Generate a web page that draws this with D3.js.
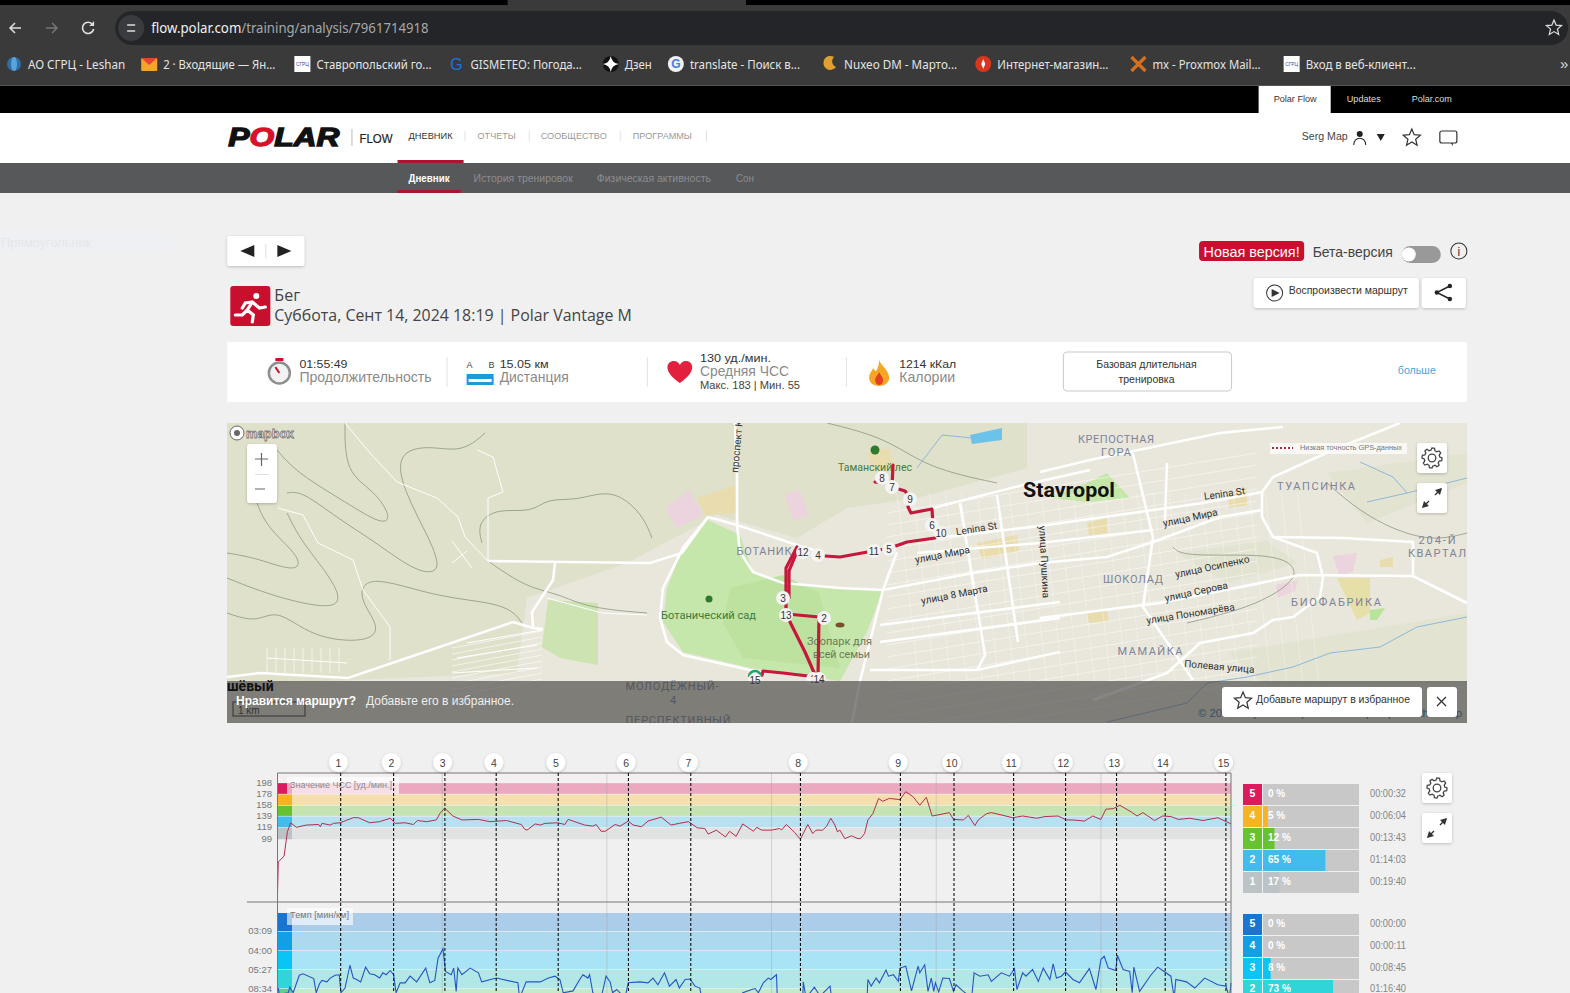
<!DOCTYPE html>
<html>
<head>
<meta charset="utf-8">
<title>Polar Flow</title>
<script src="https://d3js.org/d3.v7.min.js"></script>
<style>
  html, body { margin: 0; padding: 0; background: #f0f0f0; overflow: hidden; }
  svg { display: block; }
</style>
</head>
<body>
<div id="page"></div>
<script>
// ---- chart data ----
const totalMinutes = 115.8;
const gridMinutes = [20, 40, 60, 80, 100];
const lapLabels = [1, 2, 3, 4, 5, 6, 7, 8, 9, 10, 11, 12, 13, 14, 15];
const lapMinutes = [7.67, 14.1, 20.33, 26.56, 34.09, 42.62, 50.19, 63.51, 75.65, 82.16, 89.4, 95.71, 101.9, 107.81, 115.18];

const hrTicks = [198, 178, 158, 139, 119, 99];
const hrZoneEdges = [198, 178, 158, 139, 119, 99];
const hrMinutes = [0, 0.1, 0.8, 1.2, 1.6, 2.3, 3.5, 5, 5.2, 5.4, 6.4, 6.8, 7.6, 9.2, 9.8, 11.2, 12.4, 13.7, 14.3, 15.5, 16.5, 17, 18.1, 19.3, 19.7, 20.3, 21.3, 22.4, 24.4, 25.8, 27.8, 29.6, 30, 30.3, 31.3, 31.9, 32.5, 34, 34.9, 35.3, 37.3, 38.3, 38.7, 39.3, 39.8, 41, 41.6, 42.6, 43.2, 44.2, 45, 46.6, 47.8, 48.8, 49.9, 51, 51.9, 52.3, 53.3, 54.4, 54.9, 55.7, 56.5, 57.8, 58.2, 58.8, 60, 61, 61.2, 61.8, 62.8, 63.5, 64.4, 65, 65.4, 66.2, 66.7, 67.2, 67.7, 68, 68.3, 68.9, 69.7, 70.5, 70.8, 71.3, 71.7, 72.3, 73, 73.5, 74.3, 75.6, 76.3, 77.2, 78, 78.8, 79.5, 80.6, 81.6, 82.1, 83.3, 83.9, 84.7, 85.1, 86.1, 86.7, 89.3, 90.5, 92.2, 93.2, 94.8, 95.8, 96.6, 98, 99, 100, 100.6, 101.5, 102.3, 103.7, 104.4, 105.1, 106.5, 107.5, 108.5, 109.4, 110.8, 112.4, 114.2, 115.8];
const hrValues = [3, 59, 69, 112, 128, 120, 124, 125, 121, 127, 124, 127, 128, 137, 137, 128, 130, 136, 127, 128, 125, 132, 130, 133, 144, 154, 140, 133, 134, 130, 132, 125, 117, 115, 126, 124, 127, 128, 125, 134, 124, 122, 125, 113, 113, 125, 122, 131, 124, 121, 131, 138, 124, 127, 130, 119, 118, 108, 115, 103, 113, 104, 126, 113, 120, 115, 115, 118, 115, 125, 111, 99, 125, 109, 115, 115, 122, 136, 124, 112, 115, 100, 105, 100, 100, 109, 133, 144, 171, 166, 171, 169, 183, 174, 159, 173, 140, 143, 146, 134, 133, 141, 123, 133, 144, 146, 137, 140, 136, 139, 140, 133, 133, 131, 140, 134, 152, 153, 159, 147, 140, 146, 132, 140, 139, 134, 136, 132, 137, 126];

// pace zones are linear in speed, so the series is kept in km/h
const paceTicks = [19.05, 15, 11, 7];
const paceTickLabels = ["03:09", "04:00", "05:27", "08:34"];
const paceZoneEdges = [23, 19.05, 15, 11, 7, 3];
const paceMinutesAxis = [0.1, 0.2, 1.3, 1.5, 1.9, 2.65, 3.1, 4.4, 4.7, 5.1, 5.4, 6, 6.4, 7, 7.5, 7.7, 8.2, 8.8, 9.2, 9.6, 10.1, 10.7, 11.2, 11.8, 12.4, 12.8, 13.2, 13.7, 14.1, 14.4, 14.9, 15.5, 16.1, 16.9, 18, 18.5, 19.1, 19.5, 20.1, 20.4, 21.1, 21.4, 21.7, 21.9, 22.4, 23.4, 24.4, 24.8, 26.6, 29.2, 29.4, 30.2, 31.9, 32.9, 33.7, 34.3, 34.7, 35.9, 36.7, 37.1, 37.7, 37.9, 38.3, 39.3, 39.9, 40.4, 40.7, 41.2, 42.2, 42.6, 44, 45, 45.6, 46.2, 47, 47.6, 48.4, 48.8, 49.5, 50.1, 50.7, 51.3, 51.5, 53, 54.5, 56, 56.5, 57.6, 58, 58.4, 59, 59.6, 59.9, 60.6, 60.7, 63.8, 63.85, 64.2, 65.2, 65.9, 67.1, 67.3, 71.6, 71.7, 72.1, 72.7, 73.1, 73.9, 74.2, 74.8, 75.4, 75.6, 76.3, 77, 77.8, 78, 78.6, 79, 79.4, 79.7, 79.9, 80.3, 80.8, 81.6, 82.1, 82.4, 83.3, 84.3, 84.6, 85.3, 86.3, 86.7, 87.9, 88.9, 89.5, 89.8, 90.5, 90.9, 91.7, 92.4, 93, 93.8, 94.2, 94.6, 95.2, 95.7, 96.6, 97.4, 98.6, 99.4, 100, 100.4, 100.9, 101.8, 102, 102.7, 103.5, 103.8, 104, 104.7, 106.1, 106.9, 107.5, 108.5, 108.9, 109.1, 110.4, 111.4, 112.6, 114.2, 115.2, 115.6, 115.8];
const paceSpeeds = [7.2, 5.9, 6.2, 7.4, 6.2, 9.9, 10.2, 9.2, 6.2, 8.1, 8.8, 8.5, 9.3, 9.9, 10, 6.2, 7.2, 12, 9.3, 9, 8.5, 11.6, 10.2, 10, 9.3, 10.4, 10, 10.9, 10, 6.2, 8.3, 8.3, 9.7, 8.5, 11.4, 8.3, 8.8, 13.5, 15.5, 10.7, 10, 11.4, 6.5, 11.4, 10, 11.4, 10.4, 8.5, 9.3, 8.3, 5.1, 8.5, 8.5, 9.3, 9.7, 9, 6.2, 6.6, 9, 10, 9.3, 10, 6.2, 5.1, 9.7, 8.5, 6.2, 6.9, 5.1, 8.3, 8.5, 8.3, 9.3, 7.9, 10.4, 7.6, 9, 7.2, 9, 9.1, 7.6, 7.2, 5.1, 4.5, 4, 5, 6.2, 6.9, 7.1, 6.2, 8.3, 9.3, 9, 10, 5.1, 5.1, 8.5, 5.1, 7.4, 5.5, 7.6, 5.1, 5.1, 9, 7.6, 9.3, 8.3, 11, 9.7, 10, 8.6, 11.4, 11.8, 6.6, 11.8, 10.4, 12.1, 6.5, 9.3, 6.5, 8.3, 6.4, 9.3, 9.2, 6.5, 7.9, 6.5, 5.1, 10.4, 9.7, 10, 8.6, 10.4, 9.7, 11.3, 6.9, 10.4, 9.7, 11.1, 8.6, 11.4, 9, 12.3, 9.3, 9.7, 10.6, 9, 8.3, 11.3, 6.9, 13.2, 13.9, 11.4, 10.9, 14.1, 11.1, 10.7, 6.2, 11.6, 6.5, 10, 11.6, 10.9, 9.7, 5.1, 9, 8.5, 7.2, 9.3, 7.9, 7.6, 5.1, 8.3];

const zoneNumbers = [5, 4, 3, 2, 1];
const hrZonePercent = [0, 5, 12, 65, 17];
const hrZonePercentLabels = ["0 %", "5 %", "12 %", "65 %", "17 %"];
const hrZoneTimes = ["00:00:32", "00:06:04", "00:13:43", "01:14:03", "00:19:40"];
const paceZonePercent = [0, 0, 8, 73];
const paceZonePercentLabels = ["0 %", "0 %", "8 %", "73 %"];
const paceZoneTimes = ["00:00:00", "00:00:11", "00:08:45", "01:16:40"];

const hrKeyColors = ["#dc1a5e", "#f6b322", "#66c22e", "#42bcec", "#bcc3c6"];
const hrBandColors = ["#eba9c0", "#f5dfae", "#c6e4b2", "#b7e0f0", "#e1e2e2"];
const paceKeyColors = ["#1a75d2", "#129fe4", "#08c5f6", "#30d5da", "#5fd08a"];
const paceBandColors = ["#accdea", "#acd9ee", "#a8e4f5", "#b1e7e6", "#c2eacb"];

const bookmarkNames = ["АО СГРЦ - Leshan", "2 · Входящие — Ян...", "Ставропольский го...", "GISMETEO: Погода...", "Дзен", "translate - Поиск в...", "Nuxeo DM - Марто...", "Интернет-магазин...", "mx - Proxmox Mail...", "Вход в веб-клиент..."];
const bookmarkStart = [28, 163, 316, 470, 624, 689, 843, 996, 1151, 1304];
const bookmarkEnd = [125, 275, 431, 581, 651, 799, 956, 1107, 1259, 1414];
const bookmarkIcons = ["globe", "mail", "sgrc", "gis", "zen", "google", "moon", "shop", "mx", "sgrc"];

// map geometry, in map units (origin at the map's top left)
const hillArea = [[0, 0], [800, 0], [800, 45], [690, 75], [620, 85], [570, 115], [490, 92], [400, 140], [300, 175], [290, 250], [0, 262]];
const softAreas = [[[1100, 50], [1240, 30], [1240, 60], [1140, 100]], [[1000, 230], [1240, 190], [1240, 260], [1040, 262]], [[950, 130], [1040, 118], [1070, 140], [1000, 160]]];
const gardenArea = [[481, 97], [513, 112], [526, 149], [556, 160], [656, 167], [640, 209], [613, 258], [523, 245], [456, 229], [436, 199], [440, 165], [456, 125]];
const gardenInner = [[503, 165], [556, 152], [592, 170], [613, 245], [516, 235], [496, 200]];
const parkArea = [[321, 177], [371, 180], [371, 242], [333, 235], [315, 224]];
const lakeArea = [[743, 12], [775, 5], [775, 17], [745, 21]];
const patches = [
  [[438, 85], [462, 67], [476, 92], [450, 105]], [[470, 75], [508, 62], [510, 90], [478, 92]],
  [[558, 72], [572, 66], [582, 92], [566, 98]], [[640, 30], [662, 25], [668, 42], [648, 50]],
  [[1106, 133], [1130, 130], [1126, 149], [1112, 152]], [[1153, 137], [1166, 134], [1166, 144], [1153, 144]],
  [[1110, 155], [1143, 155], [1143, 190], [1130, 197]], [[860, 190], [880, 187], [882, 198], [862, 200]],
  [[1000, 70], [1020, 65], [1020, 82], [1002, 85]], [[860, 100], [880, 95], [880, 110], [862, 112]],
  [[1048, 162], [1071, 157], [1068, 168], [1050, 175]], [[750, 120], [790, 112], [792, 128], [755, 136]],
  [[1143, 187], [1158, 185], [1150, 197], [1143, 197]], [[823, 75], [860, 60], [880, 50], [903, 75], [860, 79]]
];
const patchColors = ["#ecd4de", "#e9dcae", "#ecd4de", "#e9dcae", "#ecd4de", "#e9dcae", "#e6dfa8", "#e9dcae", "#e9dcae", "#e9dcae", "#ecd4de", "#e9dcae", "#b9e39a", "#c5e6a9"];
const mainRoads = [
  [[508, 0], [510, 52], [510, 102], [513, 129], [526, 149], [556, 160], [613, 165], [656, 167], [746, 150], [813, 140], [880, 134], [926, 119], [993, 94], [1035, 87]],
  [[481, 94], [510, 102], [570, 122]],
  [[570, 122], [590, 128]],
  [[481, 94], [456, 125], [436, 165], [433, 195], [440, 219], [456, 232], [523, 247], [538, 250]],
  [[261, 138], [423, 140], [455, 130], [481, 94]],
  [[328, 140], [326, 157], [305, 189], [306, 205]],
  [[286, 199], [306, 205], [316, 206]],
  [[0, 254], [33, 250], [121, 255], [286, 199]],
  [[656, 167], [633, 258], [625, 300]],
  [[708, 115], [813, 103], [976, 80], [1035, 69], [1046, 54], [1106, 27], [1173, 0]],
  [[1035, 69], [1035, 94], [1046, 114], [1090, 130], [1096, 154], [1093, 174], [1066, 194], [1046, 197], [1026, 210], [973, 220], [940, 250], [866, 277]],
  [[813, 195], [933, 180], [1073, 152], [1186, 153], [1240, 180]],
  [[1046, 114], [1116, 115], [1186, 119], [1186, 154]],
  [[905, 27], [926, 114], [916, 184], [966, 257]],
  [[770, 72], [791, 219]], [[733, 80], [758, 232], [750, 247]],
  [[670, 129], [656, 167]], [[690, 130], [813, 120], [926, 107]],
  [[653, 202], [833, 179]], [[653, 219], [833, 195]], [[643, 247], [750, 247], [833, 229]],
  [[813, 49], [863, 37], [993, 10], [1056, 4]], [[940, 40], [938, 97]],
  [[706, 85], [796, 62], [863, 47]]
];
const thinRoads = [
  [[261, 138], [261, 75], [276, 69], [266, 34], [250, 27]],
  [[118, 0], [143, 30], [170, 59], [210, 75], [231, 94], [238, 114], [261, 138]],
  [[51, 85], [76, 92], [91, 120], [126, 137], [136, 167], [163, 204], [163, 237]],
  [[225, 118], [245, 145]], [[240, 128], [225, 140]],
  [[320, 175], [375, 190], [420, 192]], [[40, 235], [120, 240]], [[225, 250], [310, 245]], [[230, 235], [310, 222]], [[240, 220], [315, 207]]
];
const contours = [
  [[50, 27], [70, 50], [120, 80], [155, 102], [165, 95], [148, 68], [118, 50], [118, 0]],
  [[60, 70], [75, 68], [110, 95], [150, 120], [190, 150], [215, 150], [205, 120], [175, 65], [170, 30], [200, 22], [235, 30], [258, 10]],
  [[0, 130], [30, 135], [70, 150], [75, 135], [40, 105], [30, 80]],
  [[0, 155], [50, 175], [120, 190], [105, 155], [75, 120], [60, 90]],
  [[0, 190], [30, 200], [50, 185], [85, 215], [140, 220], [155, 205], [130, 175], [140, 150], [210, 175], [280, 180], [295, 200]],
  [[255, 120], [250, 100], [270, 85], [305, 90], [320, 75], [350, 78], [385, 65], [415, 90], [425, 115]],
  [[261, 138], [300, 165], [330, 170], [360, 185], [420, 190]],
  [[946, 124], [956, 134], [1046, 130], [1070, 144], [1066, 160], [1026, 184], [960, 200]],
  [[600, 0], [660, 15], [700, 45], [770, 60]], [[1100, 60], [1140, 95], [1200, 120], [1240, 110]]
];
const rivers = [
  [[1240, 194], [1190, 204], [1153, 224], [1103, 230], [1066, 244], [1020, 254], [980, 260], [960, 280], [880, 299]],
  [[1133, 39], [1166, 54], [1180, 70], [1140, 79]], [[1180, 70], [1240, 55]], [[690, 45], [715, 12], [745, 15]]
];
const routeLines = [
  [[535, 252], [536, 248], [556, 250], [581, 253], [591, 254], [592, 194], [560, 191]],
  [[589, 254], [578, 229], [563, 199], [560, 191]],
  [[559, 191], [559, 145], [570, 124]], [[562, 175], [562, 148], [571, 126]],
  [[598, 133], [613, 134], [646, 128], [663, 125], [680, 119], [708, 115]],
  [[706, 102], [705, 86], [684, 90], [681, 84], [684, 76], [678, 68], [665, 64], [666, 42]],
  [[648, 59], [655, 60]]
];
const mapLapX = [586, 597, 556, 591, 662, 705, 665, 655, 683, 714, 647, 576, 559, 592, 528];
const mapLapY = [256, 195, 175, 132, 126, 102, 64, 55, 76, 110, 128, 129, 192, 256, 257];
const districtNames = ["КРЕПОСТНАЯ", "ГОРА", "ТУАПСИНКА", "204-Й", "КВАРТАЛ", "ШОКОЛАД", "БИОФАБРИКА", "МАМАЙКА", "БОТАНИК", "МОЛОДЁЖНЫЙ-", "4", "ПЕРСПЕКТИВНЫЙ"];
const districtX = [889, 889, 1089, 1210, 1210, 906, 1109, 923, 537, 445, 446, 451];
const districtY = [20, 33, 67, 121, 134, 160, 183, 232, 132, 267, 281, 301];
const districtWidth = [76, 30, 78, 37, 58, 60, 90, 65, 55, 93, 6, 105];
const streetNames = ["Lenina St", "Lenina St", "улица Мира", "улица Мира", "улица 8 Марта", "улица Пушкина", "улица Осипенко", "улица Серова", "улица Пономарёва", "Полевая улица"];
const streetX = [750, 998, 716, 964, 728, 814, 986, 970, 964, 992];
const streetY = [109, 74, 135, 98, 175, 139, 147, 172, 194, 247];
const streetAngle = [-9, -8, -11, -12, -11, 87, -12, -12, -9, 5];

// ---- page ----
const svg = d3.select("#page").append("svg").attr("width", 1570).attr("height", 993);
const defs = svg.append("defs");
const shadow = defs.append("filter").attr("id", "soft").attr("x", "-20%").attr("y", "-20%").attr("width", "140%").attr("height", "150%");
shadow.append("feDropShadow").attr("dx", 0).attr("dy", 1).attr("stdDeviation", 1.6).attr("flood-opacity", 0.22);
// header and cards were measured on the slightly smaller preview
const root = svg.append("g").attr("transform", "scale(1.00128,1)");

function box(x, y, w, h, fill, r, parent) {
  return (parent || root).append("rect").attr("x", x).attr("y", y).attr("width", w).attr("height", h).attr("fill", fill).attr("rx", r || 0);
}
// o.w squeezes the string to the width measured on the reference
function label(x, y, str, o) {
  o = o || {};
  const t = (o.parent || root).append("text").attr("x", x).attr("y", y).text(str)
    .attr("font-family", o.font || "Liberation Sans")
    .attr("font-size", o.size || 11)
    .attr("font-weight", o.weight || 400)
    .attr("fill", o.fill || "#333")
    .attr("text-anchor", o.anchor || "start");
  if (o.w) t.attr("textLength", o.w).attr("lengthAdjust", "spacingAndGlyphs");
  if (o.spacing) t.attr("letter-spacing", o.spacing);
  if (o.rotate !== undefined) t.attr("transform", `rotate(${o.rotate},${x},${y})`);
  return t;
}
function gear(cx, cy, r, parent) {
  const pts = d3.range(48).map(i => {
    const a = i / 48 * 2 * Math.PI;
    const k = i % 6 < 3 ? r : r * 0.78;
    return [cx + k * Math.cos(a), cy + k * Math.sin(a)];
  });
  parent.append("path").attr("d", d3.line().curve(d3.curveLinearClosed)(pts)).attr("fill", "none").attr("stroke", "#444").attr("stroke-width", 1.3);
  parent.append("circle").attr("cx", cx).attr("cy", cy).attr("r", r * 0.38).attr("fill", "none").attr("stroke", "#444").attr("stroke-width", 1.3);
}
function expandIcon(cx, cy, parent) {
  parent.append("path").attr("d", `M${cx - 9},${cy + 9}L${cx - 3},${cy + 3}M${cx + 3},${cy - 3}L${cx + 9},${cy - 9}`).attr("stroke", "#333").attr("stroke-width", 1.4);
  parent.append("path").attr("d", `M${cx - 10},${cy + 10}l2,-7l5,5zM${cx + 10},${cy - 10}l-2,7l-5,-5z`).attr("fill", "#333");
}
function starIcon(cx, cy, r, parent) {
  const pts = d3.range(10).map(i => {
    const a = -Math.PI / 2 + i * Math.PI / 5;
    const k = i % 2 ? r * 0.45 : r;
    return [cx + k * Math.cos(a), cy + k * Math.sin(a)];
  });
  return parent.append("path").attr("d", d3.line().curve(d3.curveLinearClosed)(pts)).attr("fill", "none").attr("stroke", "#333").attr("stroke-width", 1.2);
}
function bookmarkIcon(kind, cx) {
  const cy = 64;
  if (kind === "globe") {
    root.append("circle").attr("cx", cx).attr("cy", cy).attr("r", 7).attr("fill", "#2f6fa8");
    root.append("ellipse").attr("cx", cx).attr("cy", cy).attr("rx", 3).attr("ry", 7).attr("fill", "#5aa4d8");
  } else if (kind === "mail") {
    box(cx - 8, cy - 6, 16, 13, "#f5a623", 1);
    root.append("path").attr("d", `M${cx - 8},${cy - 6}l8,7l8,-7z`).attr("fill", "#e2472f");
  } else if (kind === "sgrc") {
    box(cx - 8, cy - 8, 16, 16, "#fff");
    label(cx, cy + 2, "СГРЦ", { size: 5, fill: "#4b3f9e", anchor: "middle", w: 13 });
  } else if (kind === "gis") {
    label(cx, cy + 6, "G", { size: 16, fill: "#1a73e8", anchor: "middle" });
  } else if (kind === "zen") {
    root.append("circle").attr("cx", cx).attr("cy", cy).attr("r", 8).attr("fill", "#111");
    root.append("path").attr("d", `M${cx},${cy - 8}q1,7 8,8q-7,1 -8,8q-1,-7 -8,-8q7,-1 8,-8z`).attr("fill", "#fff");
  } else if (kind === "google") {
    root.append("circle").attr("cx", cx).attr("cy", cy).attr("r", 8).attr("fill", "#f1f1f1");
    label(cx, cy + 4.5, "G", { size: 12, weight: 700, fill: "#3f7fe8", anchor: "middle" });
  } else if (kind === "moon") {
    root.append("path").attr("d", `M${cx + 6},${cy + 3}a7,7 0 1 1 -2,-10a6,6 0 0 0 2,10z`).attr("fill", "#e0a030");
  } else if (kind === "shop") {
    root.append("circle").attr("cx", cx).attr("cy", cy).attr("r", 8).attr("fill", "#d9361e");
    root.append("path").attr("d", `M${cx},${cy - 5}l2,5l-2,5l-2,-5z`).attr("fill", "#fff");
  } else if (kind === "mx") {
    root.append("path").attr("d", `M${cx - 7},${cy - 7}l14,14M${cx + 7},${cy - 7}l-14,14`).attr("stroke", "#d9701e").attr("stroke-width", 3.2);
  }
}

// browser chrome
box(0, 0, 1570, 993, "#f0f0f0");
box(0, 0, 1570, 86, "#3a3a3a");
box(0, 0, 507, 5, "#000");
box(745, 0, 825, 5, "#000");
box(115, 11, 1451, 34, "#232528", 17);
root.append("circle").attr("cx", 131).attr("cy", 28).attr("r", 13).attr("fill", "#3a3b3e");
root.append("path").attr("d", "M127,25h8M127,31h8").attr("stroke", "#ddd").attr("stroke-width", 1.3);
root.append("path").attr("d", "M21,28h-11m5,-5l-5,5l5,5").attr("fill", "none").attr("stroke", "#ddd").attr("stroke-width", 1.5);
root.append("path").attr("d", "M46,28h11m-5,-5l5,5l-5,5").attr("fill", "none").attr("stroke", "#777").attr("stroke-width", 1.5);
root.append("path").attr("d", "M92.5,24.5a5.6,5.6 0 1 0 1,4.5").attr("fill", "none").attr("stroke", "#ddd").attr("stroke-width", 1.7);
root.append("path").attr("d", "M94,21v5h-5z").attr("fill", "#ddd");
label(151, 33, "flow.polar.com", { font: "Noto Sans", size: 14, fill: "#f0f0f0", w: 90 });
label(241, 33, "/training/analysis/7961714918", { font: "Noto Sans", size: 14, fill: "#a8a8a8", w: 187 });
starIcon(1552, 28, 8, root).attr("stroke", "#ddd");
bookmarkNames.forEach((name, i) => {
  label(bookmarkStart[i], 69, name, { font: "Noto Sans", size: 12, fill: "#e4e4e4", w: bookmarkEnd[i] - bookmarkStart[i] });
  bookmarkIcon(bookmarkIcons[i], bookmarkStart[i] - 14);
});
label(1558, 69, "»", { size: 15, fill: "#ddd" });
box(0, 85, 1570, 1, "#555");

// site header
box(0, 86, 1570, 27, "#000");
box(1257, 86, 72, 27, "#fff");
label(1272, 102, "Polar Flow", { size: 9.5, fill: "#333", w: 43 });
label(1345, 102, "Updates", { size: 9.5, fill: "#ddd", w: 34 });
label(1410, 102, "Polar.com", { size: 9.5, fill: "#ddd", w: 40 });
box(0, 113, 1570, 50, "#fff");
const logo = label(228, 146, "", { size: 25, weight: 700, fill: "#111", font: "Liberation Sans" }).attr("font-style", "italic").attr("stroke", "#111").attr("stroke-width", 1.3);
logo.append("tspan").text("P");
logo.append("tspan").attr("fill", "#d6122b").attr("stroke", "#d6122b").text("O");
logo.append("tspan").text("LAR");
logo.attr("textLength", 111).attr("lengthAdjust", "spacingAndGlyphs");
box(351, 129, 1, 17, "#bbb");
label(359, 143, "FLOW", { size: 12.5, weight: 400, fill: "#222", w: 33 }).attr("stroke", "#222").attr("stroke-width", 0.2);
const navNames = ["ДНЕВНИК", "ОТЧЕТЫ", "СООБЩЕСТВО", "ПРОГРАММЫ"];
const navX = [408, 477, 540, 632], navW = [44, 38, 66, 59], navSep = [464, 528, 619, 705];
navNames.forEach((n, i) => {
  label(navX[i], 139, n, { size: 9.5, fill: i === 0 ? "#333" : "#999", w: navW[i] });
  box(navSep[i], 131, 1, 10, "#e2e2e2");
});
box(397, 160, 66, 3, "#a9162f");
box(0, 163, 1570, 30, "#57585a");
box(397, 190, 63, 3, "#a9162f");
const subNames = ["Дневник", "История тренировок", "Физическая активность", "Сон"];
const subX = [408, 473, 596, 735], subW = [41, 99, 114, 18];
subNames.forEach((n, i) => label(subX[i], 182, n, { size: 11, weight: i === 0 ? 700 : 400, fill: i === 0 ? "#fff" : "#8c8d8f", w: subW[i] }));
label(1300, 140, "Serg Map", { size: 10.5, fill: "#444", w: 46 });
root.append("circle").attr("cx", 1358).attr("cy", 134).attr("r", 3).attr("fill", "#222");
root.append("path").attr("d", "M1352,145c0,-9 12,-9 12,0").attr("fill", "none").attr("stroke", "#222");
root.append("path").attr("d", "M1375,134h8l-4,7z").attr("fill", "#222");
starIcon(1410, 138, 9, root);
box(1438, 131, 17, 12, "none", 2).attr("stroke", "#333").attr("stroke-width", 1.2);
root.append("path").attr("d", "M1449,143l2,3v-3z").attr("fill", "#333");

// ghost element at left
box(0, 233, 173, 20, "#eef0f4");
label(1, 247, "Прямоугольник", { size: 12, fill: "#e4e7ec", w: 90 });

// title row
box(227, 236, 77, 30, "#fff", 2).attr("filter", "url(#soft)");
root.append("path").attr("d", "M240,251l14,-6v12zM291,251l-14,-6v12z").attr("fill", "#222");
box(265, 244, 1, 14, "#ddd");
box(230, 286, 40, 40, "#c8102e", 3);
const runner = root.append("g").attr("stroke", "#fff").attr("fill", "none").attr("stroke-width", 3.2).attr("stroke-linecap", "round");
runner.append("path").attr("d", "M252,302l-5,8l6,5l-1,7M247,310l-5,5l-7,0M252,302l7,6l6,-1M252,302l-7,1l-3,5");
root.append("circle").attr("cx", 256).attr("cy", 296).attr("r", 3).attr("fill", "#fff");
label(274, 301, "Бег", { font: "Open Sans", size: 16, fill: "#444" });
label(274, 321, "Суббота, Сент 14, 2024 18:19 | Polar Vantage M", { font: "Open Sans", size: 16, fill: "#444", w: 357 });

box(1197.5, 241, 105, 20, "#c8102e", 4);
label(1202, 257, "Новая версия!", { size: 14, fill: "#fff", w: 96 });
label(1311, 257, "Бета-версия", { size: 14, fill: "#444", w: 80 });
box(1400, 246, 39, 17, "#999", 8.5);
root.append("circle").attr("cx", 1407).attr("cy", 254.5).attr("r", 7).attr("fill", "#fff");
root.append("circle").attr("cx", 1457).attr("cy", 251).attr("r", 8).attr("fill", "none").attr("stroke", "#333");
label(1457, 256, "i", { size: 12, anchor: "middle" });
box(1252, 278, 165, 30, "#fff", 3).attr("filter", "url(#soft)");
root.append("circle").attr("cx", 1273).attr("cy", 293).attr("r", 8).attr("fill", "none").attr("stroke", "#333");
root.append("path").attr("d", "M1270,289l8,4l-8,4z").attr("fill", "#333");
label(1287, 294, "Воспроизвести маршрут", { size: 10.5, fill: "#333", w: 119 });
box(1420, 278, 44, 30, "#fff", 3).attr("filter", "url(#soft)");
root.append("path").attr("d", "M1448,286l-13,6.5l13,6.5").attr("fill", "none").attr("stroke", "#222").attr("stroke-width", 1.4);
[[1448, 286], [1435, 292.5], [1448, 299]].forEach(p => root.append("circle").attr("cx", p[0]).attr("cy", p[1]).attr("r", 2.2).attr("fill", "#222"));

// summary card
box(227, 342, 1238, 60, "#fff");
[446, 646, 845].forEach(x => box(x, 357, 1, 30, "#e3e3e3"));
root.append("circle").attr("cx", 279).attr("cy", 373).attr("r", 10.5).attr("fill", "#f2f2f2").attr("stroke", "#8e8e8e").attr("stroke-width", 2.5);
root.append("path").attr("d", "M279,373l-4,-6").attr("stroke", "#c8102e").attr("stroke-width", 2);
box(275, 358, 8, 3, "#c8102e");
label(299, 368, "01:55:49", { size: 11.5, fill: "#333", w: 48 });
label(299, 382, "Продолжительность", { size: 14, fill: "#8a8a8a", w: 132 });
label(466, 368, "A", { size: 9, fill: "#444" });
label(488, 368, "B", { size: 9, fill: "#444" });
label(499, 368, "15.05 км", { size: 11.5, fill: "#333", w: 49 });
box(466, 374, 27, 11, "#1b9bd7");
box(468, 379, 23, 3, "#fff");
label(499, 382, "Дистанция", { size: 14, fill: "#8a8a8a", w: 69 });
root.append("path").attr("d", "M679,383c-18,-12 -13,-22 -6,-22c3,0 5,2 6,4c1,-2 3,-4 6,-4c7,0 12,10 -6,22z").attr("fill", "#e2213f");
label(699, 362, "130 уд./мин.", { size: 11.5, fill: "#333", w: 71 });
label(699, 376, "Средняя ЧСС", { size: 14, fill: "#8a8a8a", w: 89 });
label(699, 389, "Макс. 183 | Мин. 55", { size: 10, fill: "#444", w: 100 });
root.append("path").attr("d", "M878,360c2,6 10,10 10,18c0,5 -5,8 -10,8c-5,0 -10,-3 -10,-8c0,-5 3,-7 4,-10c1,2 2,3 3,3c2,-3 3,-7 3,-11z").attr("fill", "#f5a623");
root.append("path").attr("d", "M878,372c1,3 4,5 4,8c0,3 -2,5 -4,5c-2,0 -4,-2 -4,-5c0,-3 3,-5 4,-8z").attr("fill", "#e2401f");
label(898, 368, "1214 кКал", { size: 11.5, fill: "#333", w: 57 });
label(898, 382, "Калории", { size: 14, fill: "#8a8a8a", w: 56 });
box(1062, 352, 168, 39, "#fff", 4).attr("stroke", "#c9c9c9");
label(1145, 368, "Базовая длительная", { size: 10.5, anchor: "middle", fill: "#333" });
label(1145, 383, "тренировка", { size: 10.5, anchor: "middle", fill: "#333" });
label(1396, 374, "больше", { size: 11, fill: "#4aa6d2", w: 38 });

// ---- map ----
const mapX = d3.scaleLinear().domain([0, 1240]).range([227, 1467]);
const mapY = d3.scaleLinear().domain([0, 300]).range([423, 723]);
defs.append("clipPath").attr("id", "mapClip").append("rect").attr("x", 227).attr("y", 423).attr("width", 1240).attr("height", 300);
const map = svg.append("g").attr("clip-path", "url(#mapClip)");
const mapLine = d3.line().x(d => mapX(d[0])).y(d => mapY(d[1]));
const mapClosed = d3.line().x(d => mapX(d[0])).y(d => mapY(d[1])).curve(d3.curveLinearClosed);
box(227, 423, 1240, 300, "#e9e6db", 0, map);
map.append("path").attr("d", mapClosed(hillArea)).attr("fill", "#dfe1cb");
softAreas.forEach(p => map.append("path").attr("d", mapClosed(p)).attr("fill", "#e2e3d1"));
map.append("path").attr("d", mapClosed(gardenArea)).attr("fill", "#c6e7ab");
map.append("path").attr("d", mapClosed(gardenInner)).attr("fill", "#bde29f");
map.append("path").attr("d", mapClosed(parkArea)).attr("fill", "#cde3b2");
map.append("path").attr("d", mapClosed(lakeArea)).attr("fill", "#6cc3ea");
patches.forEach((p, i) => map.append("path").attr("d", mapClosed(p)).attr("fill", patchColors[i]));
// background street grid of the town and the dacha plots
d3.range(0, 20).forEach(i => {
  map.append("line").attr("x1", mapX(660)).attr("x2", mapX(1030)).attr("y1", mapY(60 + i * 12 + 30)).attr("y2", mapY(60 + i * 12 - 30)).attr("stroke", "#fff").attr("stroke-width", 0.6).attr("opacity", 0.8);
});
d3.range(0, 26).forEach(i => {
  const gx = 670 + i * 16;
  map.append("line").attr("x1", mapX(gx)).attr("x2", mapX(gx + 22)).attr("y1", mapY(70)).attr("y2", mapY(260)).attr("stroke", "#fff").attr("stroke-width", 0.5).attr("opacity", 0.6);
});
d3.range(0, 9).forEach(i => {
  map.append("line").attr("x1", mapX(225)).attr("x2", mapX(315)).attr("y1", mapY(225 + i * 6)).attr("y2", mapY(208 + i * 6)).attr("stroke", "#fff").attr("stroke-width", 0.6);
  map.append("line").attr("x1", mapX(40 + i * 9)).attr("x2", mapX(40 + i * 9)).attr("y1", mapY(225)).attr("y2", mapY(250)).attr("stroke", "#fff").attr("stroke-width", 0.6);
});
contours.forEach(c => map.append("path").attr("d", d3.line().x(d => mapX(d[0])).y(d => mapY(d[1])).curve(d3.curveBasis)(c)).attr("fill", "none").attr("stroke", "#7f8e72").attr("stroke-width", 0.7));
rivers.forEach(c => map.append("path").attr("d", mapLine(c)).attr("fill", "none").attr("stroke", "#8fb8d8").attr("stroke-width", 1));
thinRoads.forEach(c => map.append("path").attr("d", mapLine(c)).attr("fill", "none").attr("stroke", "#fff").attr("stroke-width", 1));
mainRoads.forEach(c => map.append("path").attr("d", mapLine(c)).attr("fill", "none").attr("stroke", "#fff").attr("stroke-width", 2.6));

districtNames.forEach((n, i) => label(mapX(districtX[i]), mapY(districtY[i]), n, { parent: map, size: 11, fill: "#7d8498", anchor: "middle", font: "Roboto" }).attr("textLength", districtWidth[i]));
streetNames.forEach((n, i) => label(mapX(streetX[i]), mapY(streetY[i]), n, { parent: map, size: 10, fill: "#333", anchor: "middle", font: "Roboto", rotate: streetAngle[i] }));
label(mapX(511), mapY(50), "проспект К", { parent: map, size: 10, fill: "#333", font: "Roboto", rotate: -85 });
label(mapX(648), mapY(48), "Таманский лес", { parent: map, size: 10.5, fill: "#3f7d3f", anchor: "middle", font: "Roboto" });
label(mapX(796), mapY(74), "Stavropol", { parent: map, size: 21, weight: 700, fill: "#111", font: "Roboto", w: 92 });
label(mapX(434), mapY(196), "Ботанический сад", { parent: map, size: 10.5, fill: "#3e7a3e", font: "Roboto", w: 95 });
label(mapX(580), mapY(222), "Зоопарк для", { parent: map, size: 10.5, fill: "#6b7a5a", font: "Roboto", w: 65 });
label(mapX(586), mapY(235), "всей семьи", { parent: map, size: 10.5, fill: "#6b7a5a", font: "Roboto", w: 57 });
map.append("circle").attr("cx", mapX(648)).attr("cy", mapY(27)).attr("r", 4.5).attr("fill", "#2f7a2f");
map.append("circle").attr("cx", mapX(482)).attr("cy", mapY(176)).attr("r", 3.5).attr("fill", "#2f7a2f");
map.append("ellipse").attr("cx", mapX(613)).attr("cy", mapY(202)).attr("rx", 4.5).attr("ry", 2.5).attr("fill", "#7a4f2a");

routeLines.forEach(c => map.append("path").attr("d", mapLine(c)).attr("fill", "none").attr("stroke", "#c4183c").attr("stroke-width", 3.2).attr("stroke-linejoin", "round").attr("stroke-linecap", "round"));
map.append("path").attr("d", `M${mapX(522)},${mapY(254)}a6,6 0 0 1 12,0`).attr("fill", "none").attr("stroke", "#2a9d6a").attr("stroke-width", 2.5);
lapLabels.forEach((n, i) => {
  map.append("circle").attr("cx", mapX(mapLapX[i])).attr("cy", mapY(mapLapY[i])).attr("r", 7).attr("fill", "#f4f4f4");
  label(mapX(mapLapX[i]), mapY(mapLapY[i]) + 3.5, n, { parent: map, size: 10, fill: "#333", anchor: "middle" });
});

// map controls
label(246, 438, "mapbox", { parent: map, size: 12.5, weight: 700, fill: "#f4f4f4", w: 48 }).attr("stroke", "#777").attr("stroke-width", 0.8);
map.append("circle").attr("cx", 237).attr("cy", 433).attr("r", 7).attr("fill", "#fff").attr("stroke", "#666");
map.append("circle").attr("cx", 237).attr("cy", 433).attr("r", 3).attr("fill", "#666");
box(247, 444, 30, 59, "#fff", 3, map).attr("filter", "url(#soft)");
map.append("path").attr("d", "M255,459h13M261.5,453v13M255,489h10").attr("stroke", "#666").attr("stroke-width", 1.2);
box(255, 474, 14, 0.6, "#ccc", 0, map);
box(1270, 443, 137, 11, "#fff", 0, map).attr("opacity", 0.7);
map.append("line").attr("x1", 1272).attr("x2", 1293).attr("y1", 448).attr("y2", 448).attr("stroke", "#a5264d").attr("stroke-width", 2).attr("stroke-dasharray", "2,2");
label(1300, 450, "Низкая точность GPS-данных", { parent: map, size: 7.5, fill: "#777", w: 102 });
box(1417, 443, 30, 30, "#fff", 3, map).attr("filter", "url(#soft)");
gear(1432, 458, 10, map);
box(1417, 483, 30, 30, "#fff", 3, map).attr("filter", "url(#soft)");
expandIcon(1432, 498, map);

// bottom strip of the map
box(227, 681, 1240, 42, "#3c3c3c", 0, map).attr("opacity", 0.62);
label(227, 691, "шёвый", { parent: map, size: 14, weight: 700, fill: "#111", font: "Roboto" });
box(233, 702, 72, 14, "none", 0, map).attr("stroke", "#333");
label(238, 714, "1 km", { parent: map, size: 10, fill: "#333" });
label(236, 705, "Нравится маршрут?", { parent: map, size: 12, weight: 700, fill: "#fff", w: 120 });
label(366, 705, "Добавьте его в избранное.", { parent: map, size: 12, fill: "#eee", w: 148 });
label(1198, 717, "© 2024 Mapbox © OpenStreetMap Improve this map", { parent: map, size: 10, fill: "#2d5268", w: 264 });
box(1222, 687, 200, 30, "#fff", 3, map);
starIcon(1243, 701, 9, map);
label(1256, 703, "Добавьте маршрут в избранное", { parent: map, size: 10.5, fill: "#333", w: 154 });
box(1427, 687, 30, 30, "#fff", 3, map);
map.append("path").attr("d", "M1437,697l9,9M1446,697l-9,9").attr("stroke", "#333").attr("stroke-width", 1.3);

// ---- training chart ----
const x = d3.scaleLinear().domain([0, totalMinutes]).range([277.5, 1231]);
const hrY = d3.scaleLinear().domain([-12, 216]).range([902, 773]);
const speedY = d3.scaleLinear().domain([23, 7]).range([913, 989]);
const chart = svg.append("g");
const tickFont = { size: 9.5, fill: "#777" };

// heart rate bands
box(277.5, 773, 953.5, 10, "#f4eff1", 0, chart);
chart.selectAll(".hrBand").data(hrBandColors).enter().append("rect")
  .attr("x", x(0)).attr("width", x(totalMinutes) - x(0))
  .attr("y", (d, i) => hrY(hrZoneEdges[i]))
  .attr("height", (d, i) => i < 4 ? hrY(hrZoneEdges[i + 1]) - hrY(hrZoneEdges[i]) - 0.7 : hrY(99) - hrY(119))
  .attr("fill", d => d);
chart.selectAll(".hrKey").data(hrKeyColors).enter().append("rect")
  .attr("x", x(0)).attr("width", 14.5)
  .attr("y", (d, i) => hrY(hrZoneEdges[i]))
  .attr("height", (d, i) => i < 4 ? hrY(hrZoneEdges[i + 1]) - hrY(hrZoneEdges[i]) - 0.7 : hrY(99) - hrY(119))
  .attr("fill", d => d);

// pace bands
chart.selectAll(".paceBand").data(paceBandColors).enter().append("rect")
  .attr("x", x(0)).attr("width", x(totalMinutes) - x(0))
  .attr("y", (d, i) => speedY(paceZoneEdges[i]))
  .attr("height", (d, i) => speedY(paceZoneEdges[i + 1]) - speedY(paceZoneEdges[i]) - 0.7)
  .attr("fill", d => d);
chart.selectAll(".paceKey").data(paceKeyColors).enter().append("rect")
  .attr("x", x(0)).attr("width", 14.5)
  .attr("y", (d, i) => speedY(paceZoneEdges[i]))
  .attr("height", (d, i) => speedY(paceZoneEdges[i + 1]) - speedY(paceZoneEdges[i]) - 0.7)
  .attr("fill", d => d);

// 20 minute grid
chart.selectAll(".grid").data(gridMinutes).enter().append("line")
  .attr("x1", d => x(d)).attr("x2", d => x(d)).attr("y1", 773).attr("y2", 993)
  .attr("stroke", "#9a9a9a").attr("stroke-width", 1).attr("opacity", 0.35);

// series
const hrLine = d3.line().x(d => x(d[0])).y(d => hrY(d[1]));
chart.append("path").attr("d", hrLine(d3.zip(hrMinutes, hrValues)))
  .attr("fill", "none").attr("stroke", "#b1304f").attr("stroke-width", 1);
const paceLine = d3.line().x(d => x(d[0])).y(d => speedY(d[1]));
chart.append("path").attr("d", paceLine(d3.zip(paceMinutesAxis, paceSpeeds)))
  .attr("fill", "none").attr("stroke", "#2456c6").attr("stroke-width", 1.1);

// frame
chart.append("line").attr("x1", 277.5).attr("x2", 1231).attr("y1", 773).attr("y2", 773).attr("stroke", "#777");
chart.append("line").attr("x1", 247).attr("x2", 1231).attr("y1", 902).attr("y2", 902).attr("stroke", "#777");
chart.append("line").attr("x1", 277.5).attr("x2", 277.5).attr("y1", 773).attr("y2", 993).attr("stroke", "#777");
chart.append("line").attr("x1", 1231).attr("x2", 1231).attr("y1", 773).attr("y2", 993).attr("stroke", "#777");

// overlay captions
box(287, 777, 112, 17, "#fff", 0, chart).attr("opacity", 0.62);
label(290, 788, "Значение ЧСС [уд./мин.]", { parent: chart, size: 9.5, fill: "#8a8a8a", w: 102 });
box(287, 908, 66, 17, "#fff", 0, chart).attr("opacity", 0.62);
label(290, 918, "Темп [мин/км]", { parent: chart, size: 9.5, fill: "#777", w: 59 });

// laps
chart.selectAll(".lap").data(lapMinutes).enter().append("line")
  .attr("x1", d => x(d)).attr("x2", d => x(d)).attr("y1", 773).attr("y2", 993)
  .attr("stroke", "#111").attr("stroke-width", 1.1).attr("stroke-dasharray", "3,2");
lapLabels.forEach((n, i) => {
  chart.append("circle").attr("cx", x(lapMinutes[i]) - 2.3).attr("cy", 762.5).attr("r", 9.5).attr("fill", "#fff").attr("filter", "url(#soft)");
  label(x(lapMinutes[i]) - 2.3, 766.5, n, { parent: chart, size: 10.5, fill: "#444", anchor: "middle" });
});

// y axes
const hrAxis = chart.append("g").attr("transform", "translate(277,-1)")
  .call(d3.axisLeft(hrY).tickValues(hrTicks).tickSize(0).tickPadding(5));
const paceAxis = chart.append("g").attr("transform", "translate(277,-1)")
  .call(d3.axisLeft(speedY).tickValues(paceTicks).tickSize(0).tickPadding(5).tickFormat((d, i) => paceTickLabels[i]));
[hrAxis, paceAxis].forEach(a => {
  a.select(".domain").remove();
  a.selectAll("text").attr("font-family", "Liberation Sans").attr("font-size", tickFont.size).attr("fill", tickFont.fill);
});

// zone bars on the right
const barX = d3.scaleLinear().domain([0, 100]).range([1263, 1359]);
function zoneRows(top, percents, percentLabels, times, keyColors, fillColors) {
  percents.forEach((p, i) => {
    const y = top + i * 22;
    const base = Math.min(y + 13, 991.5); // last row sits on the window's lower edge
    box(1243, y, 19, 21, keyColors[i], 0, chart);
    box(barX(0), y, barX(100) - barX(0), 21, "#c8c8c8", 0, chart);
    box(barX(0), y, barX(p) - barX(0), 21, fillColors[i], 0, chart);
    label(1252.5, base, zoneNumbers[i], { parent: chart, size: 10.5, weight: 700, fill: "#fff", anchor: "middle" });
    label(1268, base, percentLabels[i], { parent: chart, size: 10, weight: 700, fill: "#fff" });
    label(1370, base, times[i], { parent: chart, size: 10, fill: "#858585", w: 36 });
  });
}
zoneRows(784, hrZonePercent, hrZonePercentLabels, hrZoneTimes, hrKeyColors, hrKeyColors);
zoneRows(914, paceZonePercent, paceZonePercentLabels, paceZoneTimes, paceKeyColors, paceKeyColors);

box(1422, 773, 30, 30, "#fff", 3, chart).attr("filter", "url(#soft)");
gear(1437, 788, 10, chart);
box(1422, 813, 30, 30, "#fff", 3, chart).attr("filter", "url(#soft)");
expandIcon(1437, 828, chart);
</script>
</body>
</html>
